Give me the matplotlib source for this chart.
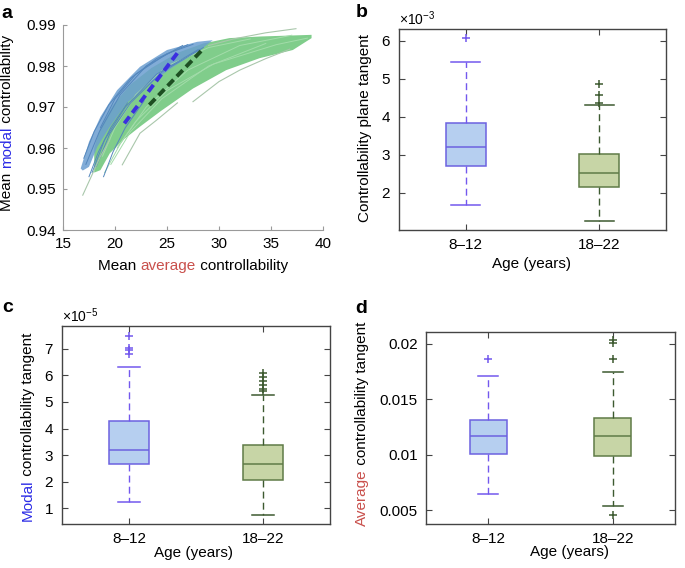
import matplotlib
matplotlib.use("Agg")
import matplotlib.pyplot as plt

plt.rcParams['font.family'] = ['Liberation Sans', 'DejaVu Sans']
plt.rcParams['mathtext.fontset'] = 'custom'
plt.rcParams['mathtext.rm'] = 'Liberation Sans'
plt.rcParams['mathtext.it'] = 'Liberation Sans:italic'

W, H = 685, 568
FS = 11

# ---- panel a: controllability curves ----
green_x_up = [18.0, 18.6, 19.8, 21.5, 23.5, 26.0, 28.5, 31.0, 34.0, 36.5, 38.9]
green_y_up = [0.9600, 0.9650, 0.9705, 0.9755, 0.9795, 0.9832, 0.9855, 0.9868, 0.9872, 0.9874, 0.9876]
green_x_lo = [38.9, 37.1, 33.9, 30.7, 27.5, 24.4, 22.4, 20.8, 19.5, 18.6, 18.0]
green_y_lo = [0.9868, 0.9839, 0.9819, 0.9790, 0.9745, 0.9690, 0.9652, 0.9620, 0.9587, 0.9546, 0.9540]

blue_x_up = [16.7, 17.5, 18.6, 20.2, 22.4, 25.0, 27.9, 29.4]
blue_y_up = [0.9550, 0.9615, 0.9676, 0.9741, 0.9798, 0.9839, 0.9859, 0.9863]
blue_x_lo = [28.2, 25.6, 23.4, 21.1, 19.5, 18.3, 17.5, 16.9]
blue_y_lo = [0.9839, 0.9798, 0.9758, 0.9709, 0.9652, 0.9603, 0.9554, 0.9545]

blue_lines = [
    ([17.2, 18.5, 20.5, 23.0, 26.5], [0.9560, 0.9640, 0.9730, 0.9800, 0.9850]),
    ([17.8, 19.0, 21.0, 24.0, 28.0], [0.9540, 0.9620, 0.9700, 0.9780, 0.9840]),
    ([18.2, 19.5, 21.5, 24.5, 28.5], [0.9555, 0.9635, 0.9710, 0.9785, 0.9845]),
    ([18.6, 20.0, 22.0, 25.0, 27.5], [0.9650, 0.9720, 0.9780, 0.9830, 0.9853]),
    ([17.5, 18.4, 19.6, 21.2], [0.9530, 0.9590, 0.9650, 0.9710]),
    ([18.9, 19.8, 21.0, 22.8], [0.9530, 0.9590, 0.9650, 0.9715]),
    ([17.0, 18.0, 19.4, 21.5, 24.0, 27.0], [0.9575, 0.9640, 0.9705, 0.9770, 0.9818, 0.9852]),
]
green_lines = [
    ([19.0, 20.5, 23.0, 27.0, 32.0, 37.0], [0.9540, 0.9610, 0.9700, 0.9790, 0.9850, 0.9875]),
    ([19.6, 21.5, 24.5, 29.0, 34.5], [0.9560, 0.9640, 0.9720, 0.9800, 0.9855]),
    ([18.8, 20.0, 22.0, 25.0, 29.0, 33.0], [0.9580, 0.9650, 0.9730, 0.9800, 0.9845, 0.9866]),
    ([20.2, 22.0, 25.0, 29.5, 35.5, 38.5], [0.9600, 0.9665, 0.9740, 0.9805, 0.9852, 0.9868]),
]
faint_lines = [
    ([16.9, 17.8, 18.6, 19.5], [0.9485, 0.9535, 0.9580, 0.9620]),
    ([20.7, 22.4, 24.0, 26.0], [0.9559, 0.9636, 0.9668, 0.9710]),
    ([27.5, 30.0, 32.0, 34.5, 36.8], [0.9713, 0.9762, 0.9790, 0.9818, 0.9841]),
    ([29.0, 31.4, 34.5, 37.4], [0.9850, 0.9866, 0.9881, 0.9891]),
]
fit_young_x = [20.9, 26.1]
fit_young_y = [0.9660, 0.9835]
fit_old_x = [23.3, 28.3]
fit_old_y = [0.9705, 0.9837]

# ---- box plot summaries: [8-12, 18-22] ----
groups = ['8\u201312', '18\u201322']

b_med = [3.20e-3, 2.51e-3]
b_q1 = [2.71e-3, 2.15e-3]
b_q3 = [3.83e-3, 3.03e-3]
b_lo = [1.69e-3, 1.26e-3]
b_hi = [5.43e-3, 4.30e-3]
b_fliers = [[6.08e-3], [4.85e-3, 4.57e-3, 4.35e-3]]

c_med = [3.21e-5, 2.65e-5]
c_q1 = [2.67e-5, 2.06e-5]
c_q3 = [4.29e-5, 3.37e-5]
c_lo = [1.25e-5, 0.74e-5]
c_hi = [6.31e-5, 5.25e-5]
c_fliers = [[7.47e-5, 7.02e-5, 6.95e-5, 6.80e-5],
            [6.07e-5, 5.92e-5, 5.77e-5, 5.62e-5, 5.48e-5, 5.40e-5]]

d_med = [0.0117, 0.01167]
d_q1 = [0.01008, 0.00993]
d_q3 = [0.01314, 0.01333]
d_lo = [0.00644, 0.00539]
d_hi = [0.01714, 0.0175]
d_fliers = [[0.01868], [0.0204, 0.0201, 0.01865, 0.00455]]

box_face = ['#b6cff0', '#c7d5a6']
box_edge = ['#6c62e0', '#5f7b47']
whisk_col = ['#7358ee', '#3d5a30']

fig = plt.figure(figsize=(W / 100, H / 100), dpi=100)


def axes_px(left, top, right, bottom):
    return fig.add_axes([left / W, 1 - bottom / H, (right - left) / W, (bottom - top) / H])


# panel a
axa = axes_px(63, 25, 323, 230)
axa.fill(green_x_up + green_x_lo, green_y_up + green_y_lo, color='#80cd8b', lw=0)
for xs, ys in green_lines:
    axa.plot(xs, ys, color='#a3dcaa', lw=0.7)
axa.fill(blue_x_up + blue_x_lo, blue_y_up + blue_y_lo, color='#6b9ed0', lw=0, alpha=0.85)
for xs, ys in blue_lines:
    axa.plot(xs, ys, color='#5487bd', lw=0.7)
for xs, ys in faint_lines:
    axa.plot(xs, ys, color='#a9c7ab', lw=0.8)
axa.plot(fit_young_x, fit_young_y, color='#3b2fe0', lw=2.8, dashes=(2.2, 1.2))
axa.plot(fit_old_x, fit_old_y, color='#1d4f22', lw=2.8, dashes=(2.2, 1.2))
axa.set_xlim(15, 40)
axa.set_ylim(0.94, 0.99)
axa.set_xticks([15, 20, 25, 30, 35, 40])
axa.set_yticks([0.94, 0.95, 0.96, 0.97, 0.98, 0.99])
axa.set_yticklabels(['0.94', '0.95', '0.96', '0.97', '0.98', '0.99'])
for s in ['top', 'right']:
    axa.spines[s].set_visible(False)
for s in ['left', 'bottom']:
    axa.spines[s].set_color('#9a9a9a')
axa.tick_params(direction='in', length=3, color='#9a9a9a', labelsize=FS, pad=5)


def boxpanel(rect, med, q1, q3, lo, hi, fliers, ylim, yticks, capw, sci):
    ax = axes_px(*rect)
    for i in range(2):
        stats = [dict(med=med[i], q1=q1[i], q3=q3[i], whislo=lo[i], whishi=hi[i],
                      fliers=fliers[i], label=groups[i])]
        ax.bxp(stats, positions=[i + 1], widths=0.3, capwidths=capw, patch_artist=True,
               boxprops=dict(facecolor=box_face[i], edgecolor=box_edge[i], lw=1.1),
               medianprops=dict(color=box_edge[i], lw=1.1),
               whiskerprops=dict(color=whisk_col[i], lw=1.0, dashes=(5, 3)),
               capprops=dict(color=whisk_col[i], lw=1.1),
               flierprops=dict(marker='+', markeredgecolor=whisk_col[i], markersize=6,
                               markeredgewidth=1.1, linestyle='none'))
    ax.set_xlim(0.5, 2.5)
    ax.set_ylim(*ylim)
    ax.set_xticks([1, 2])
    ax.set_xticklabels(groups)
    ax.set_yticks(yticks)
    ax.tick_params(direction='in', length=4, color='#444444', labelsize=FS,
                   top=True, right=True, pad=6)
    for s in ax.spines.values():
        s.set_color('#444444')
        s.set_linewidth(1.0)
    if sci:
        ax.ticklabel_format(axis='y', style='sci', scilimits=(0, 0), useMathText=True)
        ax.yaxis.get_offset_text().set_fontsize(10)
    return ax


axb = boxpanel((399, 29, 666, 230), b_med, b_q1, b_q3, b_lo, b_hi, b_fliers,
               (1.02e-3, 6.31e-3), [2e-3, 3e-3, 4e-3, 5e-3, 6e-3], 0.22, True)
axc = boxpanel((62, 326, 330, 524), c_med, c_q1, c_q3, c_lo, c_hi, c_fliers,
               (0.415e-5, 7.85e-5), [1e-5, 2e-5, 3e-5, 4e-5, 5e-5, 6e-5, 7e-5], 0.16, True)
axd = boxpanel((426, 332, 675, 524), d_med, d_q1, d_q3, d_lo, d_hi, d_fliers,
               (0.00377, 0.02108), [0.005, 0.01, 0.015, 0.02], 0.16, False)
axd.set_yticklabels(['0.005', '0.01', '0.015', '0.02'])

# ---- labels, some with coloured words ----
r = fig.canvas.get_renderer()


def tw(s):
    t = fig.text(0, 0, s + '|', fontsize=FS)
    w = t.get_window_extent(r).width
    t.remove()
    return w


def label(pieces, cx, cy, vertical):
    # cx, cy in pixels from top-left; for vertical text cx is the baseline
    bar = tw('')
    total = tw(''.join(p for p, _ in pieces)) - bar
    off = 0
    for s, c in pieces:
        if vertical:
            fig.text(cx / W, 1 - (cy + total / 2 - off) / H, s, color=c, fontsize=FS,
                     rotation=90, rotation_mode='anchor', ha='left', va='baseline')
        else:
            fig.text((cx - total / 2 + off) / W, 1 - cy / H, s, color=c, fontsize=FS,
                     ha='left', va='baseline')
        off += tw(s) - bar


BLUE = '#2b2be6'
RED = '#c9504c'
K = 'black'
label([('Mean ', K), ('modal', BLUE), (' controllability', K)], 11, 123, True)
label([('Mean ', K), ('average', RED), (' controllability', K)], 193, 270, False)
label([('Controllability plane tangent', K)], 369, 128, True)
label([('Age (years)', K)], 532, 268, False)
label([('Modal', BLUE), (' controllability tangent', K)], 32, 427, True)
label([('Age (years)', K)], 194, 557, False)
label([('Average', RED), (' controllability tangent', K)], 366, 424, True)
label([('Age (years)', K)], 570, 556, False)

for txt, x, y in [('a', 1, 18), ('b', 356, 17), ('c', 2, 312), ('d', 355, 313)]:
    fig.text(x / W, 1 - y / H, txt, fontsize=14, fontweight='bold', ha='left', va='baseline')

fig.savefig('out.png', dpi=100)
